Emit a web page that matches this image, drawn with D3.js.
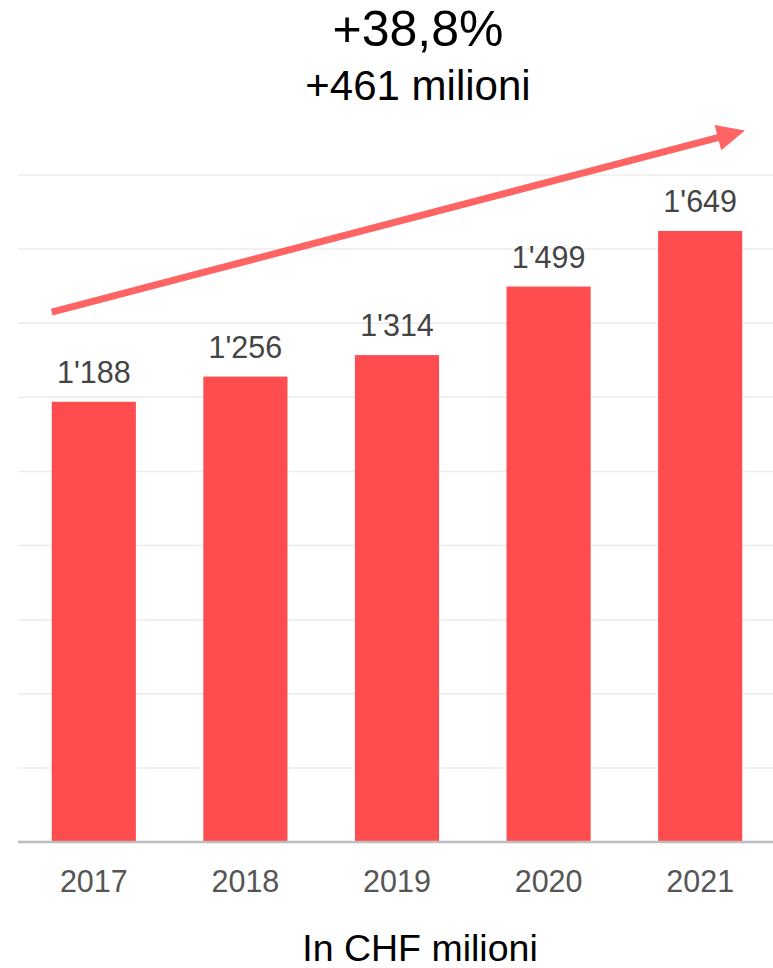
<!DOCTYPE html>
<html><head><meta charset="utf-8">
<script src="https://cdn.jsdelivr.net/npm/d3@7"></script>
<style>body{margin:0;background:#fff}svg{display:block}text{font-family:"Liberation Sans",Arial,sans-serif}</style>
</head><body><svg id="c" width="773" height="968"></svg>
<script>
const years = ["2017","2018","2019","2020","2021"];
const values = [1188,1256,1314,1499,1649];
const valueLabels = ["1'188","1'256","1'314","1'499","1'649"];
const gridTicks = [0,200,400,600,800,1000,1200,1400,1600,1800];
const titleMain = "+38,8%";
const titleSub = "+461 milioni";
const axisTitle = "In CHF milioni";

const svg = d3.select("#c");
const x = d3.scaleBand().domain(years).range([18, 776]).paddingInner(0.445).paddingOuter(0.2225);
const y = d3.scaleLinear().domain([0,1800]).range([842,175]);

// gridlines
svg.append("g").selectAll("line").data(gridTicks.filter(d=>d>0)).join("line")
  .attr("x1",18).attr("x2",773).attr("y1",d=>y(d)).attr("y2",d=>y(d))
  .attr("stroke","#ececec").attr("stroke-width",1.5);

// bars
svg.append("g").selectAll("rect").data(values).join("rect")
  .attr("x",(d,i)=>x(years[i])).attr("width",x.bandwidth())
  .attr("y",d=>y(d)).attr("height",d=>y(0)-y(d))
  .attr("fill","#ff4d4f");

// baseline
svg.append("line").attr("x1",18).attr("x2",773).attr("y1",y(0)).attr("y2",y(0))
  .attr("stroke","#bdbdbd").attr("stroke-width",2.5);

// value labels
svg.append("g").selectAll("text").data(values).join("text")
  .attr("x",(d,i)=>x(years[i])+x.bandwidth()/2).attr("y",d=>y(d)-19)
  .attr("text-anchor","middle").attr("font-size",30.5).attr("fill","#444")
  .text((d,i)=>valueLabels[i]);

// x axis labels
const xAxis = d3.axisBottom(x).tickSize(0).tickPadding(0);
const gx = svg.append("g").attr("transform",`translate(0,${y(0)})`).call(xAxis);
gx.select(".domain").remove();
gx.selectAll("text").attr("font-size",30.5).attr("fill","#555").attr("dy",0).attr("y",50)
  .style("font-family",'"Liberation Sans",Arial,sans-serif');

// arrow
const x0 = x("2017"), y0 = y(1430);
const x1 = 745, y1 = y(1920);
const ang = Math.atan2(y1-y0, x1-x0);
const headLen = 28, headHalf = 13;
const bx = x1 - headLen*Math.cos(ang), by = y1 - headLen*Math.sin(ang);
svg.append("line").attr("x1",x0).attr("y1",y0).attr("x2",bx+2*Math.cos(ang)).attr("y2",by+2*Math.sin(ang))
  .attr("stroke","#ff6464").attr("stroke-width",7);
const px = -Math.sin(ang), py = Math.cos(ang);
svg.append("path").attr("d",`M${x1},${y1}L${bx+px*headHalf},${by+py*headHalf}L${bx-px*headHalf},${by-py*headHalf}Z`)
  .attr("fill","#ff6464");

// titles
svg.append("text").attr("x",418).attr("y",46).attr("text-anchor","middle").attr("font-size",50).attr("fill","#000").text(titleMain);
svg.append("text").attr("x",418).attr("y",100).attr("text-anchor","middle").attr("font-size",42).attr("fill","#000").text(titleSub);
svg.append("text").attr("x",420).attr("y",961).attr("text-anchor","middle").attr("font-size",37.5).attr("fill","#000").text(axisTitle);
</script></body></html>
